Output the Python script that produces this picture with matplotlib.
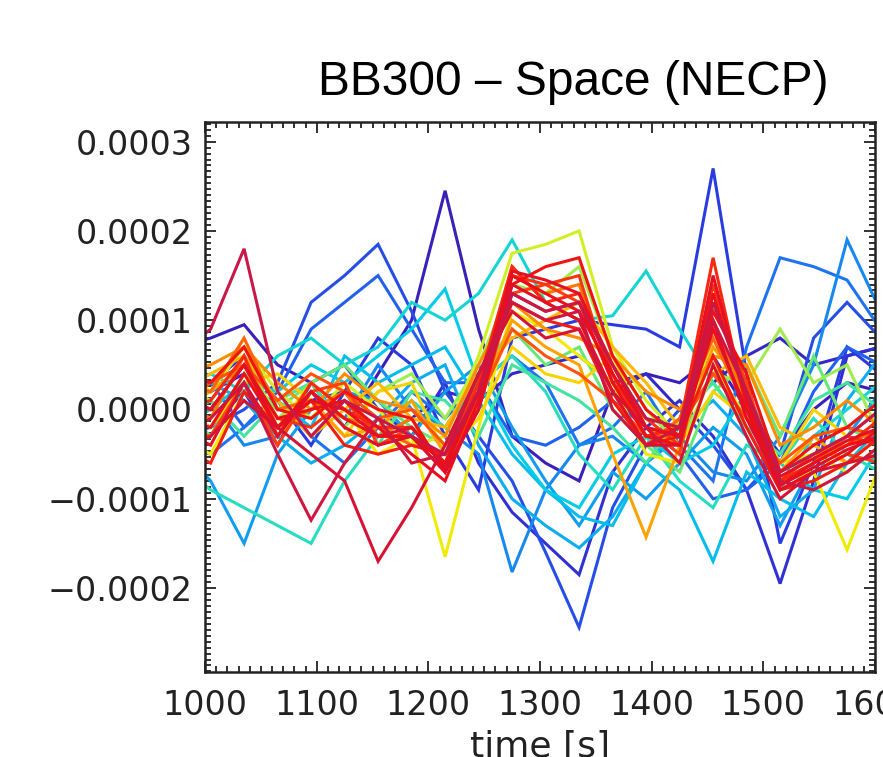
import matplotlib
matplotlib.use("Agg")
import matplotlib.pyplot as plt
import numpy as np
from matplotlib.colors import LinearSegmentedColormap
from matplotlib.ticker import FixedLocator, FuncFormatter, AutoMinorLocator

# sample times [s]
times = [975, 1005, 1035, 1065, 1095, 1125, 1155, 1185, 1215, 1245, 1275,
         1305, 1335, 1365, 1395, 1425, 1455, 1485, 1515, 1545, 1575, 1605]

# one curve per position, values in units of 1e-4, ordered blue -> red
curves_e4 = [
    [0.7, 0.8, 0.95, 0.5, 0.3, -0.2, 0.4, 1.0, 2.45, 0.9, -0.3, -0.6, -0.8, 0.2, 0.4, 0.3, 0.6, 0.0, -0.5, 0.0, 0.3, 0.2],
    [0.3, 0.2, 0.4, 0.0, 0.1, 0.2, -0.3, -0.1, 0.2, 0.1, 0.4, 0.5, 0.6, 0.3, 0.4, 0.0, 0.3, 0.6, 0.8, 0.5, 0.6, 0.7],
    [-0.3, -0.2, 0.2, -0.4, 0.3, 0.5, 0.0, -0.3, 0.3, -0.6, -1.15, -1.5, -1.85, -0.7, -0.2, 0.1, -0.3, -0.9, -1.95, -0.8, 0.6, 0.7],
    [0.2, 0.3, 0.6, 0.1, -0.4, 0.2, 0.8, 0.5, -0.3, -0.9, 0.8, 0.9, 1.0, 0.95, 0.9, 0.7, 2.7, 0.4, -1.5, -0.6, 0.7, 0.4],
    [0.0, -0.2, 0.0, 0.3, 1.2, 1.5, 1.85, 1.1, 0.2, -0.3, -0.8, -1.6, -2.44, -1.1, -0.4, 0.0, -0.4, -0.9, -0.5, 0.8, 1.2, 0.8],
    [0.4, 0.3, -0.2, 0.2, 0.9, 1.2, 1.5, 0.9, 0.3, 0.3, -0.3, -0.4, -0.2, 0.1, -0.2, -0.5, -1.0, -0.9, -0.6, 0.2, 0.7, 0.5],
    [-0.4, -0.5, -0.2, 0.1, -0.3, -0.6, -0.2, 0.2, -0.1, 0.3, 0.6, 0.3, -0.4, -0.2, 0.2, -0.4, -0.8, 0.7, 1.7, 1.6, 1.45, 0.9],
    [0.2, 0.1, -0.4, -0.3, 0.2, -0.1, 0.5, 0.0, -0.2, -0.5, -1.82, -0.9, -0.4, -0.3, -0.6, -0.3, -0.7, -0.8, -0.3, 0.5, 1.9, 1.1],
    [-0.4, -0.8, -1.5, -0.5, 0.0, 0.2, 0.1, -0.3, 0.2, 0.5, -0.2, -0.8, -1.3, -0.7, -1.0, -0.6, -0.2, -0.5, -1.3, -0.6, -0.3, 0.2],
    [0.1, 0.3, 0.1, -0.3, -0.6, -0.4, -0.1, 0.3, 0.5, -0.4, -1.0, -1.3, -1.55, -1.2, -0.6, -0.2, 0.1, -0.3, -1.2, -0.9, 0.1, 0.6],
    [0.3, 0.2, 0.5, 0.1, -0.2, 0.6, 0.3, 0.5, 0.7, 0.1, -0.5, -0.9, -1.2, -1.3, -0.6, -0.9, -1.7, -0.7, -1.0, -1.2, -0.6, -0.2],
    [-0.2, 0.0, 0.3, 0.2, 0.5, 0.3, 0.6, 0.9, 1.35, 0.3, -0.4, -0.9, -1.1, -0.5, -0.3, -0.6, -0.4, 0.2, -0.6, -0.9, -1.0, -0.4],
    [0.2, 0.4, 0.2, 0.6, 0.8, 0.5, 0.7, 1.2, 1.0, 1.3, 1.9, 1.2, 1.0, 1.05, 1.55, 0.9, 0.3, -0.2, -0.9, -0.3, 0.0, 0.3],
    [-0.6, -0.9, -1.1, -1.3, -1.5, -0.8, -0.3, 0.1, -0.2, 0.3, 0.6, 0.2, -0.5, -0.9, -0.3, -0.8, -1.1, -0.4, -0.6, -0.1, -0.5, -0.7],
    [-0.1, 0.1, -0.3, 0.1, 0.3, -0.2, -0.4, 0.2, 0.1, -0.3, 0.5, 0.3, 0.1, -0.2, -0.6, -0.1, 0.3, -0.2, -0.5, 0.1, 0.3, 0.0],
    [0.1, -0.3, 0.4, 0.0, 0.3, 0.5, 0.1, -0.2, -0.4, 0.4, 0.9, 0.5, 0.7, 0.0, -0.4, -0.7, 0.2, 0.5, -0.3, 0.6, -0.2, -0.4],
    [0.3, 0.1, 0.6, -0.1, 0.2, -0.2, 0.2, 0.4, -0.1, 0.5, 1.4, 1.3, 1.6, 0.6, 0.0, -0.4, 0.4, 0.3, 0.9, 0.3, 0.5, -0.3],
    [0.5, 0.2, 0.7, 0.2, -0.1, 0.3, 0.0, -0.4, -0.3, 0.6, 1.75, 1.85, 2.0, 0.7, 0.1, -0.3, 0.8, 0.1, -0.6, -0.5, -0.7, -0.4],
    [-0.3, -0.5, 0.2, -0.2, 0.3, 0.0, -0.5, -0.3, -1.65, -0.2, 1.1, 0.9, 0.6, 0.3, -0.5, -0.6, 0.5, -0.1, -0.8, -0.7, -1.57, -0.6],
    [0.0, -0.2, 0.3, 0.4, 0.1, -0.3, 0.2, 0.3, -0.5, -0.1, 0.7, 0.4, 0.3, 0.6, -0.2, -0.4, 0.2, -0.1, -0.6, 0.0, -0.3, -0.4],
    [0.2, 0.4, 0.6, 0.1, -0.3, 0.0, 0.3, -0.1, -0.2, 0.4, 0.8, 1.0, 1.2, 0.7, 0.3, -0.2, 0.4, 0.6, -0.2, -0.4, -0.6, -0.3],
    [0.0, 0.2, 0.5, -0.3, 0.1, -0.3, -0.2, 0.1, -0.5, 0.1, 1.0, 0.7, 0.5, -0.5, -1.43, -0.4, 0.7, 0.2, -0.7, -0.3, -0.6, -0.5],
    [0.4, 0.5, 0.7, 0.3, 0.0, 0.4, 0.1, 0.0, -0.3, 0.5, 1.2, 0.9, 0.8, 0.6, 0.2, 0.0, 0.6, 0.5, -0.4, -0.2, 0.1, -0.2],
    [0.1, -0.1, 0.6, -0.2, 0.0, 0.2, -0.3, -0.1, -0.7, 0.2, 1.5, 1.3, 1.4, 0.4, -0.3, -0.3, 1.0, 0.1, -0.7, -0.5, -0.4, -0.2],
    [0.3, 0.2, 0.8, 0.0, 0.1, -0.1, -0.2, -0.4, -0.5, 0.3, 1.6, 1.2, 1.0, 0.2, -0.4, -0.1, 0.8, 0.0, -0.8, -0.6, -0.3, 0.0],
    [0.0, 0.3, 0.5, 0.1, 0.4, 0.2, -0.1, 0.0, -0.4, 0.1, 0.9, 0.6, 0.4, 0.1, -0.3, -0.2, 0.4, -0.1, -0.6, -0.3, -0.2, -0.3],
    [-0.2, -0.3, 0.3, -0.4, 0.2, 0.3, -0.4, -0.2, -0.6, 0.0, 1.3, 1.4, 1.2, 0.5, -0.2, -0.5, 1.2, 0.3, -0.9, -0.7, -0.5, -0.6],
    [0.2, 0.0, 0.5, -0.1, -0.2, 0.1, -0.3, -0.3, -0.7, 0.1, 1.5, 1.4, 1.5, 0.3, -0.1, -0.4, 1.4, 0.2, -0.8, -0.5, -0.3, -0.4],
    [0.0, 0.1, 0.6, -0.3, 0.3, 0.0, -0.2, -0.2, -0.6, 0.3, 1.6, 1.2, 1.3, 0.4, -0.3, -0.2, 1.7, 0.0, -0.8, -0.6, -0.4, -0.1],
    [-0.4, -0.6, 0.2, -0.2, 0.1, -0.4, -0.5, -0.4, -0.5, 0.2, 1.2, 1.0, 0.9, 0.1, -0.4, -0.3, 0.6, -0.2, -0.9, -0.8, -0.6, -0.3],
    [0.4, 0.3, 0.7, 0.0, -0.1, 0.2, 0.0, -0.1, -0.7, 0.0, 1.4, 1.6, 1.7, 0.6, 0.0, -0.3, 1.1, 0.4, -0.7, -0.4, -0.2, 0.1],
    [-0.1, -0.2, 0.4, -0.2, 0.2, -0.1, -0.3, -0.3, -0.6, 0.2, 1.3, 1.1, 1.2, 0.3, -0.3, -0.4, 1.3, 0.1, -0.85, -0.6, -0.4, -0.3],
    [0.1, 0.0, 0.5, -0.1, 0.0, 0.1, -0.2, -0.5, -0.8, 0.1, 1.5, 1.3, 1.1, 0.4, -0.2, -0.3, 0.9, 0.0, -0.9, -0.7, -0.5, -0.2],
    [0.2, 0.0, 0.5, -0.2, 0.1, 0.0, -0.3, -0.2, -0.65, 0.2, 1.55, 1.45, 1.3, 0.5, -0.2, -0.3, 1.5, 0.1, -0.75, -0.55, -0.35, -0.2],
    [-0.2, -0.4, 0.3, -0.3, 0.2, -0.2, -0.4, -0.3, -0.7, 0.0, 1.4, 1.2, 1.0, 0.2, -0.4, -0.4, 1.0, -0.1, -0.85, -0.65, -0.45, -0.3],
    [-0.5, -0.3, 0.1, -0.2, -0.5, -0.8, -1.7, -1.1, -0.4, 0.4, 1.1, 0.8, 0.9, 0.2, -0.2, -0.6, 0.5, -0.3, -1.0, -0.7, -0.6, -0.5],
    [-0.3, -0.1, 0.3, -0.5, -1.24, -0.6, -0.1, -0.6, -0.5, 0.4, 1.2, 1.0, 1.1, 0.0, -0.4, -0.2, 1.0, 0.2, -0.8, -0.9, -0.7, -0.4],
    [0.6, 0.9, 1.8, 0.2, -0.3, 0.1, -0.1, -0.3, -0.5, 0.2, 1.3, 1.1, 1.2, 0.5, -0.1, -0.2, 1.2, 0.2, -0.7, -0.5, -0.3, 0.0],
]

ytick_vals = [-0.0002, -0.0001, 0.0, 0.0001, 0.0002, 0.0003]
xtick_vals = [1000, 1100, 1200, 1300, 1400, 1500, 1600]

# IDL-like rainbow table
rainbow = LinearSegmentedColormap.from_list("idl_rainbow", [
    (0.00, '#3a1fb8'), (0.08, '#2a3ce0'), (0.15, '#1f6cf0'), (0.22, '#0fa0f0'),
    (0.30, '#00cde8'), (0.36, '#2fe0b8'), (0.41, '#70e870'), (0.45, '#c8f030'),
    (0.49, '#f5ea00'), (0.55, '#ffb000'), (0.62, '#ff7a00'), (0.70, '#ff4010'),
    (0.82, '#f01010'), (0.92, '#e0102a'), (1.00, '#c81848')])

fig = plt.figure(figsize=(8.83, 7.57), dpi=100)
ax = fig.add_axes([205/883, 1-672/757, 670/883, 550/757])

t = np.array(times)
n = len(curves_e4)
for i, c in enumerate(curves_e4):
    ax.plot(t, np.array(c) * 1e-4, color=rainbow(i / (n - 1)), lw=2.2, solid_joinstyle='miter')

ax.set_xlim(1000, 1600)
ax.set_ylim(-0.000294, 0.000322)

ax.xaxis.set_major_locator(FixedLocator(xtick_vals))
ax.yaxis.set_major_locator(FixedLocator(ytick_vals))
ax.xaxis.set_minor_locator(AutoMinorLocator(10))
ax.yaxis.set_minor_locator(AutoMinorLocator(15))

def yfmt(v, pos):
    if abs(v) < 1e-12:
        return "0.0000"
    s = "%.4f" % abs(v)
    return ("\u2212" + s) if v < 0 else s

ax.yaxis.set_major_formatter(FuncFormatter(yfmt))

ax.tick_params(which='both', direction='in', top=True, right=True, width=1.3, colors='#222222')
ax.tick_params(which='major', length=8, labelsize=24, labelcolor='#222222')
ax.tick_params(axis='x', which='major', pad=12)
ax.tick_params(axis='y', which='major', pad=9)
ax.tick_params(which='minor', length=4)
for sp in ax.spines.values():
    sp.set_linewidth(1.8)
    sp.set_color('#222222')

# the label sits at the lower edge, partly clipped as in the original
ax.set_xlabel("time [s]", fontsize=26, color='#222222', labelpad=6)

fig.text(318/883, 1-95/757, "BB300 \u2013 Space (NECP)", fontsize=34.5,
         family='Liberation Sans', ha='left', va='baseline', color='black')

fig.savefig("out.png", dpi=100)
